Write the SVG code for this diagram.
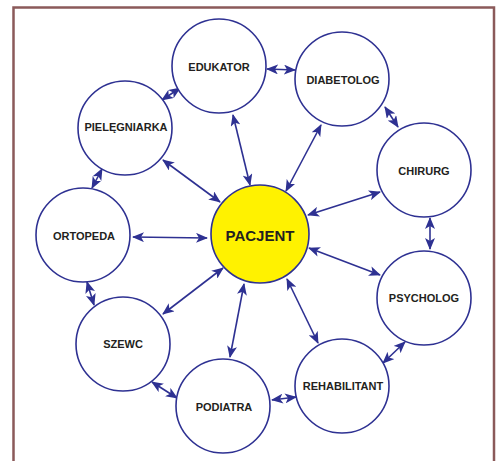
<svg xmlns="http://www.w3.org/2000/svg" width="499" height="461" viewBox="0 0 499 461">
<defs>
<marker id="ah" markerUnits="userSpaceOnUse" viewBox="0 0 12 10" refX="11" refY="5" markerWidth="12" markerHeight="10" orient="auto-start-reverse">
<path d="M0,0 L12,5 L0,10 L3,5 z" fill="#2E3192"/>
</marker>
<style>
.n{fill:#fff;stroke:#2E3192;stroke-width:1.6}
.p{fill:#FFF200;stroke:#2E3192;stroke-width:1.6}
.t{font-family:"Liberation Sans",Arial,sans-serif;font-weight:bold;font-size:11px;fill:#231F20;text-anchor:middle;dominant-baseline:central}
.c line{stroke:#2E3192;stroke-width:1.6;marker-start:url(#ah);marker-end:url(#ah)}
</style>
</defs>
<rect width="499" height="461" fill="#fff"/>
<rect x="13.5" y="7.5" width="480.5" height="460" fill="none" stroke="#8B5A5A" stroke-width="2.5"/>
<g id="connectors" class="c">
<line x1="267" y1="69" x2="295" y2="70"/>
<line x1="162" y1="100" x2="180" y2="88"/>
<line x1="385" y1="107" x2="398" y2="127"/>
<line x1="430" y1="218" x2="430" y2="249"/>
<line x1="405" y1="342" x2="383" y2="363"/>
<line x1="272" y1="400" x2="296" y2="397"/>
<line x1="152" y1="382" x2="177" y2="398"/>
<line x1="87" y1="282" x2="94" y2="305"/>
<line x1="92" y1="188" x2="102" y2="169"/>
<line x1="163" y1="160" x2="220" y2="202"/>
<line x1="133" y1="237" x2="207" y2="238"/>
<line x1="163" y1="314" x2="223" y2="268"/>
<line x1="233" y1="115" x2="250" y2="185"/>
<line x1="286" y1="191" x2="321" y2="125"/>
<line x1="308" y1="215" x2="380" y2="192"/>
<line x1="309" y1="248" x2="380" y2="275"/>
<line x1="230" y1="357" x2="244" y2="284"/>
<line x1="318" y1="343" x2="287" y2="279"/>
</g>
<g id="edukator"><circle class="n" cx="219" cy="66" r="47"/><text class="t" x="219" y="67">EDUKATOR</text></g>
<g id="diabetolog"><circle class="n" cx="342" cy="79" r="47"/><text class="t" x="343" y="80">DIABETOLOG</text></g>
<g id="pielegniarka"><circle class="n" cx="125" cy="128" r="47"/><text class="t" x="126" y="127">PIELĘGNIARKA</text></g>
<g id="ortopeda"><circle class="n" cx="83" cy="235" r="47"/><text class="t" x="84" y="236">ORTOPEDA</text></g>
<g id="pacjent"><circle class="p" cx="260" cy="234" r="49"/><text class="t" x="260" y="235" style="font-size:15px">PACJENT</text></g>
<g id="chirurg"><circle class="n" cx="424" cy="170" r="47"/><text class="t" x="424" y="171">CHIRURG</text></g>
<g id="psycholog"><circle class="n" cx="424" cy="298" r="47"/><text class="t" x="424" y="298">PSYCHOLOG</text></g>
<g id="szewc"><circle class="n" cx="123" cy="344" r="47"/><text class="t" x="123" y="344">SZEWC</text></g>
<g id="podiatra"><circle class="n" cx="223" cy="406" r="47"/><text class="t" x="224" y="407">PODIATRA</text></g>
<g id="rehabilitant"><circle class="n" cx="342" cy="386" r="47"/><text class="t" x="343" y="386">REHABILITANT</text></g>
</svg>
